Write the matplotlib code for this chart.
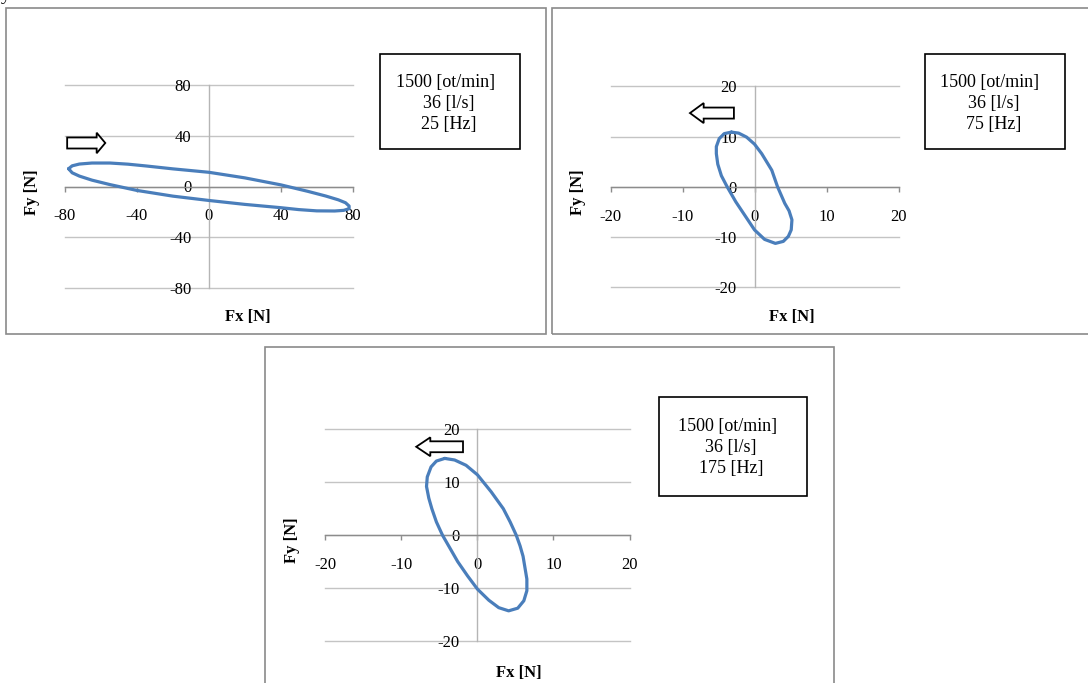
import matplotlib
matplotlib.use("Agg")
import matplotlib.pyplot as plt
from matplotlib.patches import Rectangle, FancyArrow

plt.rcParams['font.family'] = ['Liberation Serif', 'DejaVu Serif']
plt.rcParams['axes.unicode_minus'] = False

# ---------------- data ----------------
# Panel 1: 25 Hz
fx_25 = [-78, -76, -72, -65, -55, -45, -35, -20, 0, 20, 40, 55, 65, 72, 76, 78,
         78, 75, 70, 60, 50, 40, 20, 0, -20, -40, -55, -65, -72, -76, -78]
fy_25 = [14, 16.3, 17.7, 18.5, 18.5, 17.6, 16.2, 13.9, 11.2, 6.8, 1.3, -3.8, -7.5, -10.5, -12.8, -15.4,
         -17.5, -18.8, -19.3, -19.2, -18.2, -16.7, -14.1, -11.0, -7.6, -3.1, 1.5, 5.0, 8.2, 10.8, 14]
ticks_25 = [-80, -40, 0, 40, 80]

# Panel 2: 75 Hz
fx_75 = [-3.2, -4.2, -4.9, -5.3, -5.3, -5.1, -4.6, -3.8, -2.6, -1.3, 0.0, 1.4, 2.9, 4.0, 4.7, 5.1,
         5.2, 4.8, 4.2, 3.2, 2.4, 1.0, 0.0, -1.1, -2.2, -3.2]
fy_75 = [10.9, 10.6, 9.6, 8.0, 6.6, 4.5, 2.2, 0.0, -3.0, -5.8, -8.6, -10.5, -11.3, -10.9, -9.9, -8.6,
         -6.6, -4.8, -3.3, 0.0, 3.3, 6.6, 8.5, 9.9, 10.7, 10.9]
ticks_75 = [-20, -10, 0, 10, 20]

# Panel 3: 175 Hz
fx_175 = [-4.3, -5.4, -6.1, -6.6, -6.7, -6.4, -6.0, -5.4, -4.6, -3.6, -2.6, -1.3, 0.0, 1.5, 2.8, 4.1,
          5.3, 6.1, 6.5, 6.5, 6.0, 5.6, 5.1, 4.3, 3.4, 1.8, 0.0, -1.5, -3.0, -4.3]
fy_175 = [14.5, 14.0, 12.9, 11.0, 9.2, 7.0, 5.0, 2.5, 0.0, -2.5, -5.0, -7.7, -10.2, -12.3, -13.7, -14.3,
          -13.8, -12.4, -10.5, -8.3, -4.0, -2.0, 0.0, 2.5, 5.0, 8.2, 11.4, 13.2, 14.2, 14.5]
ticks_175 = [-20, -10, 0, 10, 20]

speed_label = "1500 [ot/min]"
flow_label = "36 [l/s]"
freq_labels = ["25 [Hz]", "75 [Hz]", "175 [Hz]"]
xlabel = "Fx [N]"
ylabel = "Fy [N]"

# ---------------- layout (pixels) ----------------
W, H = 1088, 683
fig = plt.figure(figsize=(W / 100, H / 100), dpi=100)


def frect(x0, y0, x1, y1):
    return [x0 / W, 1 - y1 / H, (x1 - x0) / W, (y1 - y0) / H]


def fpt(x, y):
    return x / W, 1 - y / H


panels = [
    dict(fx=fx_25, fy=fy_25, ticks=ticks_25, freq=freq_labels[0],
         border=(6, 7.5, 545.5, 333.5), axes=(65, 85, 352.7, 288),
         box=(380, 54, 520, 148.5), text_x=(445.6, 449, 449), text_y=(82.7, 103.3, 124),
         xl=(248, 316.7), yl=(32.5, 191.7),
         arrow=dict(x=-78.8, y=34.3, dx=21.2, w=8.7, hw=16.2, hl=4.8)),
    dict(fx=fx_75, fy=fy_75, ticks=ticks_75, freq=freq_labels[1],
         border=(551.5, 7.5, 1092, 333.5), axes=(610.5, 86.5, 898.5, 287),
         box=(925, 54, 1064.5, 148.5), text_x=(989.6, 993.7, 993.6), text_y=(82.7, 103.3, 124),
         xl=(792, 316.7), yl=(578, 191.7),
         arrow=dict(x=-2.86, y=14.7, dx=-6.1, w=2.2, hw=4.0, hl=1.9)),
    dict(fx=fx_175, fy=fy_175, ticks=ticks_175, freq=freq_labels[2],
         border=(264.5, 346.5, 833.5, 700), axes=(325.4, 429.3, 629.5, 641),
         box=(659, 396.5, 807, 495.5), text_x=(727.6, 731, 731.5), text_y=(426, 447.3, 468.3),
         xl=(518.6, 673.3), yl=(292, 540),
         arrow=dict(x=-1.9, y=16.7, dx=-6.15, w=2.06, hw=3.56, hl=1.85)),
]

for p in panels:
    # panel frame
    bx0, by0, bx1, by1 = p['border']
    fig.add_artist(Rectangle((bx0 / W, 1 - by1 / H), (bx1 - bx0) / W, (by1 - by0) / H,
                             transform=fig.transFigure, fill=False, ec='#8a8a8a', lw=1.2))

    ax = fig.add_axes(frect(*p['axes']))
    t = p['ticks']
    ax.set_xlim(t[0], t[-1])
    ax.set_ylim(t[0], t[-1])
    ax.patch.set_alpha(0)
    ax.spines['top'].set_visible(False)
    ax.spines['right'].set_visible(False)
    ax.spines['bottom'].set_position(('data', 0))
    ax.spines['left'].set_position(('data', 0))
    ax.spines['bottom'].set_color('#8c8c8c')
    ax.spines['left'].set_color('#b5b5b5')
    ax.spines['bottom'].set_linewidth(1.0)
    ax.spines['left'].set_linewidth(1.0)
    ax.set_xticks(t)
    ax.set_yticks(t)
    ax.set_xticklabels([str(v) for v in t])
    ax.set_yticklabels([str(v) for v in t])
    ax.tick_params(axis='x', direction='out', length=3.8, width=1, color='#8c8c8c',
                   pad=12.0, labelsize=12)
    ax.tick_params(axis='y', length=0, pad=12.7, labelsize=12)
    ax.yaxis.grid(True, color='#c4c4c4', lw=1.0)
    for gl in ax.get_ygridlines():
        gl.set_clip_on(False)
    ax.set_axisbelow(True)

    ax.plot(p['fx'], p['fy'], color='#4a7ebb', lw=2.3, solid_joinstyle='round',
            solid_capstyle='round', clip_on=False, zorder=3)

    a = p['arrow']
    ax.add_patch(FancyArrow(a['x'], a['y'], a['dx'], 0, width=a['w'], head_width=a['hw'],
                            head_length=a['hl'], length_includes_head=True,
                            fc='white', ec='black', lw=1.3, clip_on=False, zorder=4))

    # axis titles
    fig.text(*fpt(*p['xl']), xlabel, ha='center', va='center', fontsize=12, fontweight='bold')
    fig.text(*fpt(*p['yl']), ylabel, ha='center', va='center', fontsize=12,
             fontweight='bold', rotation=90)

    # info box
    x0, y0, x1, y1 = p['box']
    fig.add_artist(Rectangle((x0 / W, 1 - y1 / H), (x1 - x0) / W, (y1 - y0) / H,
                             transform=fig.transFigure, fill=False, ec='black', lw=1.2))
    for s, tx, ty in zip([speed_label, flow_label, p['freq']], p['text_x'], p['text_y']):
        fig.text(*fpt(tx, ty), s, ha='center', va='center', fontsize=13)

# cut-off letter from the surrounding document at the top-left corner
fig.text(1 / W, 1.0, "y", ha='left', va='baseline', fontsize=14)

fig.savefig("out.png", dpi=100)
